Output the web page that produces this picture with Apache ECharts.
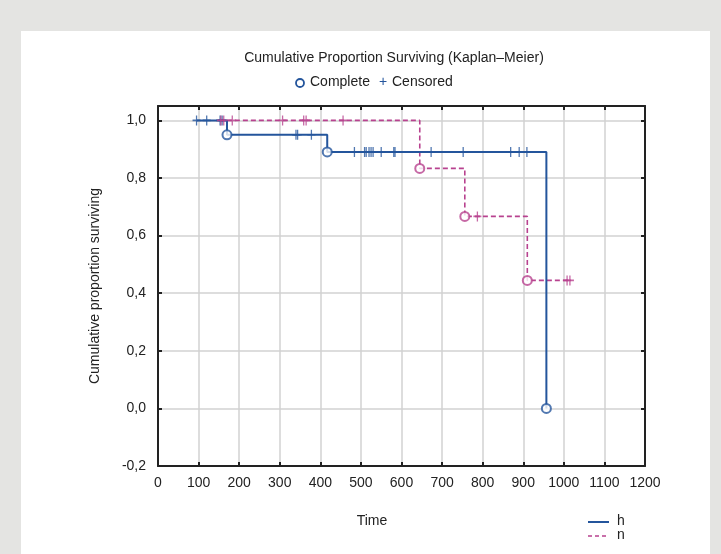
<!DOCTYPE html>
<html><head><meta charset="utf-8">
<script src="https://cdn.jsdelivr.net/npm/echarts@6/dist/echarts.min.js"></script>
<style>html,body{margin:0;padding:0;background:#e4e4e2;}#wrap{position:absolute;left:0;top:0;width:721px;height:554px;background:#e4e4e2;}
#panel{position:absolute;left:21px;top:31px;width:689px;height:523px;background:#fff;}
#c{position:absolute;left:0;top:0;width:721px;height:554px;}</style>
</head><body>
<div id="wrap"><div id="panel"></div><div id="c"></div></div>
<script>
// Data
const xTicks = [0,100,200,300,400,500,600,700,800,900,1000,1100,1200];
const yTicks = [-0.2,0,0.2,0.4,0.6,0.8,1.0];
// group h: step curve (time, survival)
const hCurve = [[95,1],[170,0.95],[417,0.8906],[957,0]];
const hComplete = [[170,0.95],[417,0.8906],[957,0]];
const hCensored = [[95,1],[120,1],[153,1],[158,1],
  [340,0.95],[344,0.95],[378,0.95],
  [484,0.8906],[509,0.8906],[513,0.8906],[520,0.8906],[525,0.8906],[530,0.8906],[550,0.8906],[581,0.8906],[584,0.8906],[673,0.8906],[752,0.8906],[869,0.8906],[890,0.8906],[909,0.8906]];
// group n
const nCurve = [[150,1],[645,0.8333],[756,0.6667],[910,0.4444],[1015,0.4444]];
const nComplete = [[645,0.8333],[756,0.6667],[910,0.4444]];
const nCensored = [[155,1],[162,1],[183,1],[307,1],[359,1],[365,1],[456,1],
  [787,0.6667],[1008,0.4444],[1015,0.4444]];

const blue = '#24559c', mag = '#b8428f';
const plus = 'path://M4.2,0 L5.8,0 L5.8,4.2 L10,4.2 L10,5.8 L5.8,5.8 L5.8,10 L4.2,10 L4.2,5.8 L0,5.8 L0,4.2 L4.2,4.2 Z';
const font = '"Liberation Sans", Arial, sans-serif';
const fmt = v => (Math.abs(v) < 1e-9 ? 0 : v).toFixed(1).replace('.', ',');

const chart = echarts.init(document.getElementById('c'), null, {renderer:'canvas'});
chart.setOption({
  backgroundColor: 'transparent',
  animation: false,
  textStyle: {fontFamily: font},
  grid: {left:158, right:76, top:106, bottom:88, show:false},
  xAxis: [{
    type:'value', min:0, max:1200, interval:100, position:'bottom',
    axisLine:{show:true, onZero:false, lineStyle:{color:'#222', width:2}},
    axisTick:{show:true, inside:true, length:4, lineStyle:{color:'#222', width:2}},
    axisLabel:{color:'#222', fontSize:14, margin:10, fontFamily:font,
      formatter: v => xTicks.includes(v) ? String(v) : ''},
    splitLine:{show:true, lineStyle:{color:'#d2d2d2', width:1.5}}
  },{
    type:'value', min:0, max:1200, interval:100, position:'top',
    axisLine:{show:true, onZero:false, lineStyle:{color:'#222', width:2}},
    axisTick:{show:true, inside:true, length:4, lineStyle:{color:'#222', width:2}},
    axisLabel:{show:false}, splitLine:{show:false}
  }],
  yAxis: [{
    type:'value', min:-0.2, max:1.05, interval:0.2, position:'left',
    name:'Cumulative proportion surviving', nameLocation:'middle', nameGap:56,
    nameTextStyle:{color:'#222', fontSize:14, fontFamily:font},
    axisLine:{show:true, onZero:false, lineStyle:{color:'#222', width:2}},
    axisTick:{show:true, inside:true, length:4, lineStyle:{color:'#222', width:2}},
    axisLabel:{color:'#222', fontSize:14, margin:12, fontFamily:font, showMaxLabel:false,
      formatter: v => yTicks.some(t => Math.abs(t - v) < 1e-6) ? fmt(v) : ''},
    splitLine:{show:true, lineStyle:{color:'#d2d2d2', width:1.5}}
  },{
    type:'value', min:-0.2, max:1.05, interval:0.2, position:'right',
    axisLine:{show:true, onZero:false, lineStyle:{color:'#222', width:2}},
    axisTick:{show:true, inside:true, length:4, lineStyle:{color:'#222', width:2}},
    axisLabel:{show:false}, splitLine:{show:false}
  }],
  series: [
    {name:'h', type:'line', step:'end', data:hCurve, showSymbol:false, symbol:'none',
      lineStyle:{color:blue, width:2}, z:3},
    {name:'n', type:'line', step:'end', data:nCurve, showSymbol:false, symbol:'none',
      lineStyle:{color:mag, width:1.6, type:[5,3]}, z:2},
    {type:'scatter', data:hCensored, symbol:plus, symbolSize:[8,10], itemStyle:{color:blue}, z:4},
    {type:'scatter', data:nCensored, symbol:plus, symbolSize:[8,10], itemStyle:{color:mag}, z:4},
    {type:'scatter', data:hComplete, symbol:'circle', symbolSize:9,
      itemStyle:{color:'#fff', borderColor:blue, borderWidth:2}, z:5},
    {type:'scatter', data:nComplete, symbol:'circle', symbolSize:9,
      itemStyle:{color:'#fff', borderColor:mag, borderWidth:2}, z:5}
  ],
  graphic: [
    {type:'text', x:394, y:51, style:{text:'Cumulative Proportion Surviving (Kaplan–Meier)', fill:'#222', font:'14px '+font, textAlign:'center'}},
    {type:'circle', shape:{cx:300, cy:83, r:4}, style:{fill:'#fff', stroke:blue, lineWidth:1.8}},
    {type:'text', x:310, y:75, style:{text:'Complete', fill:'#222', font:'14px '+font}},
    {type:'text', x:379, y:75, style:{text:'+', fill:blue, font:'14px '+font}},
    {type:'text', x:392, y:75, style:{text:'Censored', fill:'#222', font:'14px '+font}},
    {type:'text', x:372, y:514, style:{text:'Time', fill:'#222', font:'14px '+font, textAlign:'center'}},
    {type:'line', shape:{x1:588, y1:522, x2:609, y2:522}, style:{stroke:blue, lineWidth:2}},
    {type:'text', x:617, y:514, style:{text:'h', fill:'#222', font:'14px '+font}},
    {type:'line', shape:{x1:588, y1:536, x2:609, y2:536}, style:{stroke:mag, lineWidth:1.6, lineDash:[4,3]}},
    {type:'text', x:617, y:528, style:{text:'n', fill:'#222', font:'14px '+font}}
  ]
});
</script>
</body></html>
